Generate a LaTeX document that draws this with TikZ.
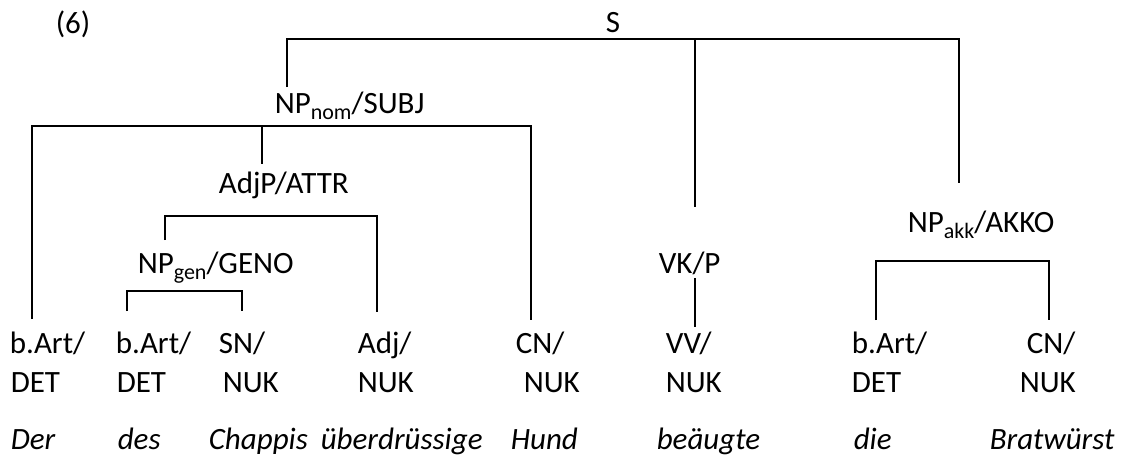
\documentclass[tikz,border=0pt]{standalone}
\usepackage{fontspec}
\setmainfont{Carlito}
\usepackage{tikz}
\usetikzlibrary{positioning}

\newcommand{\lowsub}[1]{\raisebox{-0.22em}{\fontsize{22}{22}\selectfont #1}}

\begin{document}
\begin{tikzpicture}[x=1pt, y=-1pt, line width=1.6pt,
    lbl/.style={anchor=base west, inner sep=0pt},
    word/.style={lbl, font=\fontsize{31}{36}\selectfont\itshape}]
     \useasboundingbox (0,0) rectangle (1122,456);
     \begin{scope}[every node/.append style={font=\fontsize{31}{36}\selectfont}]
      % phrase labels
      \node[lbl] (six)   at (55,33)   {(6)};
      \node[lbl] (s)     at (605,32)  {S};
      \node[lbl] (npnom) at (274,113) {NP\lowsub{nom}/SUBJ};
      \node[lbl] (adjp)  at (218,193) {AdjP/ATTR};
      \node[lbl] (npgen) at (137,273) {NP\lowsub{gen}/GENO};
      \node[lbl] (vkp)   at (658,273) {VK/P};
      \node[lbl] (npakk) at (907,232) {NP\lowsub{akk}/AKKO};
      % categories
      \node[lbl] (bart1) at (9,353)    {b.Art/};
      \node[lbl] (bart2) at (115,353)  {b.Art/};
      \node[lbl] (sn)    at (218,353)  {SN/};
      \node[lbl] (adj)   at (357,353)  {Adj/};
      \node[lbl] (cn1)   at (515,353)  {CN/};
      \node[lbl] (vv)    at (665,353)  {VV/};
      \node[lbl] (bart3) at (851,353)  {b.Art/};
      \node[lbl] (cn2)   at (1026,353) {CN/};
      % functions
      \node[lbl] (det1) at (10,392)   {DET};
      \node[lbl] (det2) at (116,392)  {DET};
      \node[lbl] (nuk1) at (222,392)  {NUK};
      \node[lbl] (nuk2) at (357,392)  {NUK};
      \node[lbl] (nuk3) at (523,392)  {NUK};
      \node[lbl] (nuk4) at (665,392)  {NUK};
      \node[lbl] (det3) at (851,392)  {DET};
      \node[lbl] (nuk5) at (1019,392) {NUK};
     \end{scope}
      % words
      \node[word] (der)       at (10,449)  {Der};
      \node[word] (des)       at (117,449) {des};
      \node[word] (chappis)   at (208,449) {Chappis};
      \node[word] (ueber)     at (320,449) {überdrüssige};
      \node[word] (hund)      at (510,449) {Hund};
      \node[word] (beaeugte)  at (656,449) {beäugte};
      \node[word] (die)       at (853,449) {die};
      \node[word] (bratwurst) at (989,449) {Bratwürst};
      % attachment points
      \coordinate (sbar)     at (0,39);
      \coordinate (npnom-up) at (287,87);
      \coordinate (vkp-up)   at (695,207);
      \coordinate (npakk-up) at (959,183);
      \coordinate (nombar)   at (0,126);
      \coordinate (bart1-up) at (32,319);
      \coordinate (cn1-up)   at (531,320);
      \coordinate (adjp-up)  at (262,164);
      \coordinate (adjbar)   at (0,216);
      \coordinate (npgen-up) at (165,240);
      \coordinate (adj-up)   at (377,312);
      \coordinate (genbar)   at (0,291);
      \coordinate (bart2-up) at (127,311);
      \coordinate (sn-up)    at (242,311);
      \coordinate (vkp-dn)   at (695,278);
      \coordinate (vv-up)    at (695,327);
      \coordinate (akkbar)   at (0,261);
      \coordinate (bart3-up) at (876,320);
      \coordinate (cn2-up)   at (1049,320);
      % branches
      \draw (npnom-up) |- (sbar -| npakk-up) -- (npakk-up);
      \draw (sbar -| vkp-up) -- (vkp-up);
      \draw (bart1-up) |- (nombar -| cn1-up) -- (cn1-up);
      \draw (nombar -| adjp-up) -- (adjp-up);
      \draw (npgen-up) |- (adjbar -| adj-up) -- (adj-up);
      \draw (bart2-up) |- (genbar -| sn-up) -- (sn-up);
      \draw (vkp-dn) -- (vv-up);
      \draw (bart3-up) |- (akkbar -| cn2-up) -- (cn2-up);
\end{tikzpicture}
\end{document}
